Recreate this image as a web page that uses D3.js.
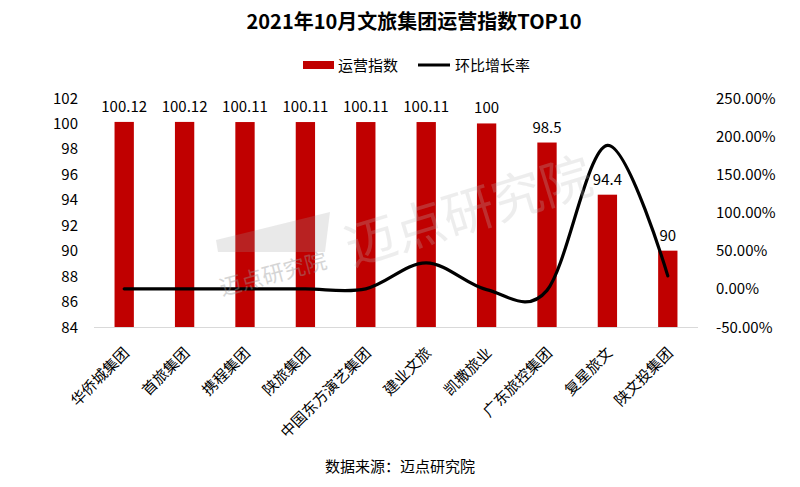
<!DOCTYPE html>
<html>
<head>
<meta charset="utf-8">
<script src="https://cdn.jsdelivr.net/npm/d3@7"></script>
<style>
	body { margin: 0; background: #fff; }
	text { font-family: "Noto Sans CJK SC", "Noto Sans", sans-serif; fill: #000; }
	.title { font-size: 20px; font-weight: bold; }
</style>
</head>
<body>
<svg id="chart" width="800" height="487"></svg>
<script>
const svg = d3.select('#chart');

// data
const groups = ['华侨城集团', '首旅集团', '携程集团', '陕旅集团', '中国东方演艺集团',
	'建业文旅', '凯撒旅业', '广东旅控集团', '复星旅文', '陕文投集团'];
const indexValues = [100.12, 100.12, 100.11, 100.11, 100.11, 100.11, 100, 98.5, 94.4, 90];
const growthValues = [0, 0, 0, 0, 0, 0.34, -0.01, -0.02, 1.88, 0.17];
const leftTicks = [84, 86, 88, 90, 92, 94, 96, 98, 100, 102];
const rightTicks = [-0.5, 0, 0.5, 1, 1.5, 2, 2.5];

const fontFamily = '"Noto Sans CJK SC", "Noto Sans", sans-serif';
const margin = { top: 98, right: 102, bottom: 160, left: 94 };
const innerWidth = 800 - margin.left - margin.right;
const innerHeight = 487 - margin.top - margin.bottom;

const xScale = d3.scaleBand()
	.domain(groups)
	.range([0, innerWidth])
	.paddingInner(0.68)
	.paddingOuter(0.34);

const yLeft = d3.scaleLinear()
	.domain([84, 102])
	.range([innerHeight, 0]);

const yRight = d3.scaleLinear()
	.domain([-0.5, 2.5])
	.range([innerHeight, 0]);

//title
svg.append('text')
	.attr('class', 'title')
	.attr('x', 414)
	.attr('y', 29)
	.attr('text-anchor', 'middle')
	.text('2021年10月文旅集团运营指数TOP10');

//legend
const legend = svg.append('g').attr('transform', 'translate(303,65)');
legend.append('rect')
	.attr('x', 0).attr('y', -4)
	.attr('width', 31).attr('height', 8)
	.attr('fill', '#c00000');
legend.append('text')
	.attr('x', 35).attr('y', 5.5)
	.attr('font-size', 15)
	.text('运营指数');
legend.append('line')
	.attr('x1', 115).attr('x2', 147)
	.attr('stroke', '#000').attr('stroke-width', 3);
legend.append('text')
	.attr('x', 152).attr('y', 5.5)
	.attr('font-size', 15)
	.text('环比增长率');

const g = svg.append('g')
	.attr('transform', `translate(${margin.left},${margin.top})`);

//tidy axis text: fixed font, pixel offsets
const styleTicks = sel => {
	sel.attr('font-size', 15)
		.attr('font-family', fontFamily)
		.attr('fill', '#000');
	sel.select('.domain').remove();
	sel.selectAll('.tick').attr('opacity', null);
	sel.selectAll('.tick text').attr('dy', '5px');
};

//axes
const yAxisL = d3.axisLeft(yLeft)
	.tickValues(leftTicks)
	.tickSize(0)
	.tickPadding(16);
g.append('g')
	.attr('class', 'y-axis')
	.call(yAxisL)
	.call(styleTicks);

const yAxisR = d3.axisRight(yRight)
	.tickValues(rightTicks)
	.tickSize(0)
	.tickFormat(d => (d * 100).toFixed(2) + '%')
	.tickPadding(18);
g.append('g')
	.attr('class', 'y-axis-right')
	.attr('transform', `translate(${innerWidth},0)`)
	.call(yAxisR)
	.call(styleTicks);

//baseline
g.append('line')
	.attr('x1', 0).attr('x2', innerWidth)
	.attr('y1', innerHeight + 0.5).attr('y2', innerHeight + 0.5)
	.attr('stroke', '#d9d9d9');

const xAxis = d3.axisBottom(xScale).tickSize(0).tickPadding(0);
const xAxisG = g.append('g')
	.attr('class', 'x-axis')
	.attr('transform', `translate(0,${innerHeight})`)
	.call(xAxis)
	.call(styleTicks);
xAxisG.selectAll('.tick text')
	.attr('text-anchor', 'end')
	.attr('dy', null)
	.attr('y', 0)
	.attr('transform', 'translate(6,27) rotate(-45)');

//bars
g.selectAll('.bar').data(indexValues)
	.enter().append('rect')
		.attr('class', 'bar')
		.attr('x', (d, i) => xScale(groups[i]))
		.attr('width', xScale.bandwidth())
		.attr('y', d => yLeft(d))
		.attr('height', d => innerHeight - yLeft(d))
		.attr('fill', '#c00000');

//bar labels
g.selectAll('.bar-label').data(indexValues)
	.enter().append('text')
		.attr('class', 'bar-label')
		.attr('x', (d, i) => xScale(groups[i]) + xScale.bandwidth() / 2)
		.attr('y', d => yLeft(d) - 10)
		.attr('text-anchor', 'middle')
		.attr('font-size', 15)
		.text(d => d);

//growth line
const line = d3.line()
	.x((d, i) => xScale(groups[i]) + xScale.bandwidth() / 2)
	.y(d => yRight(d))
	.curve(d3.curveCardinal.tension(0));

g.append('path')
	.datum(growthValues)
	.attr('d', line)
	.attr('fill', 'none')
	.attr('stroke', '#000')
	.attr('stroke-width', 3.2)
	.attr('stroke-linecap', 'round');

//watermarks
const wm = svg.append('g').attr('pointer-events', 'none');
wm.append('polygon')
	.attr('points', '216,240 330,212 325,252 218,252')
	.attr('fill', '#999')
	.attr('opacity', 0.22);
wm.append('text')
	.attr('transform', 'translate(222,296) rotate(-15)')
	.attr('font-size', 22)
	.style('fill', '#999')
	.attr('opacity', 0.4)
	.text('迈点研究院');
wm.append('text')
	.attr('transform', 'translate(352,266) rotate(-17)')
	.attr('font-size', 51)
	.style('fill', '#bbb')
	.attr('opacity', 0.25)
	.text('迈点研究院');

//source
svg.append('text')
	.attr('x', 400)
	.attr('y', 472)
	.attr('text-anchor', 'middle')
	.attr('font-size', 15)
	.text('数据来源：迈点研究院');
</script>
</body>
</html>
